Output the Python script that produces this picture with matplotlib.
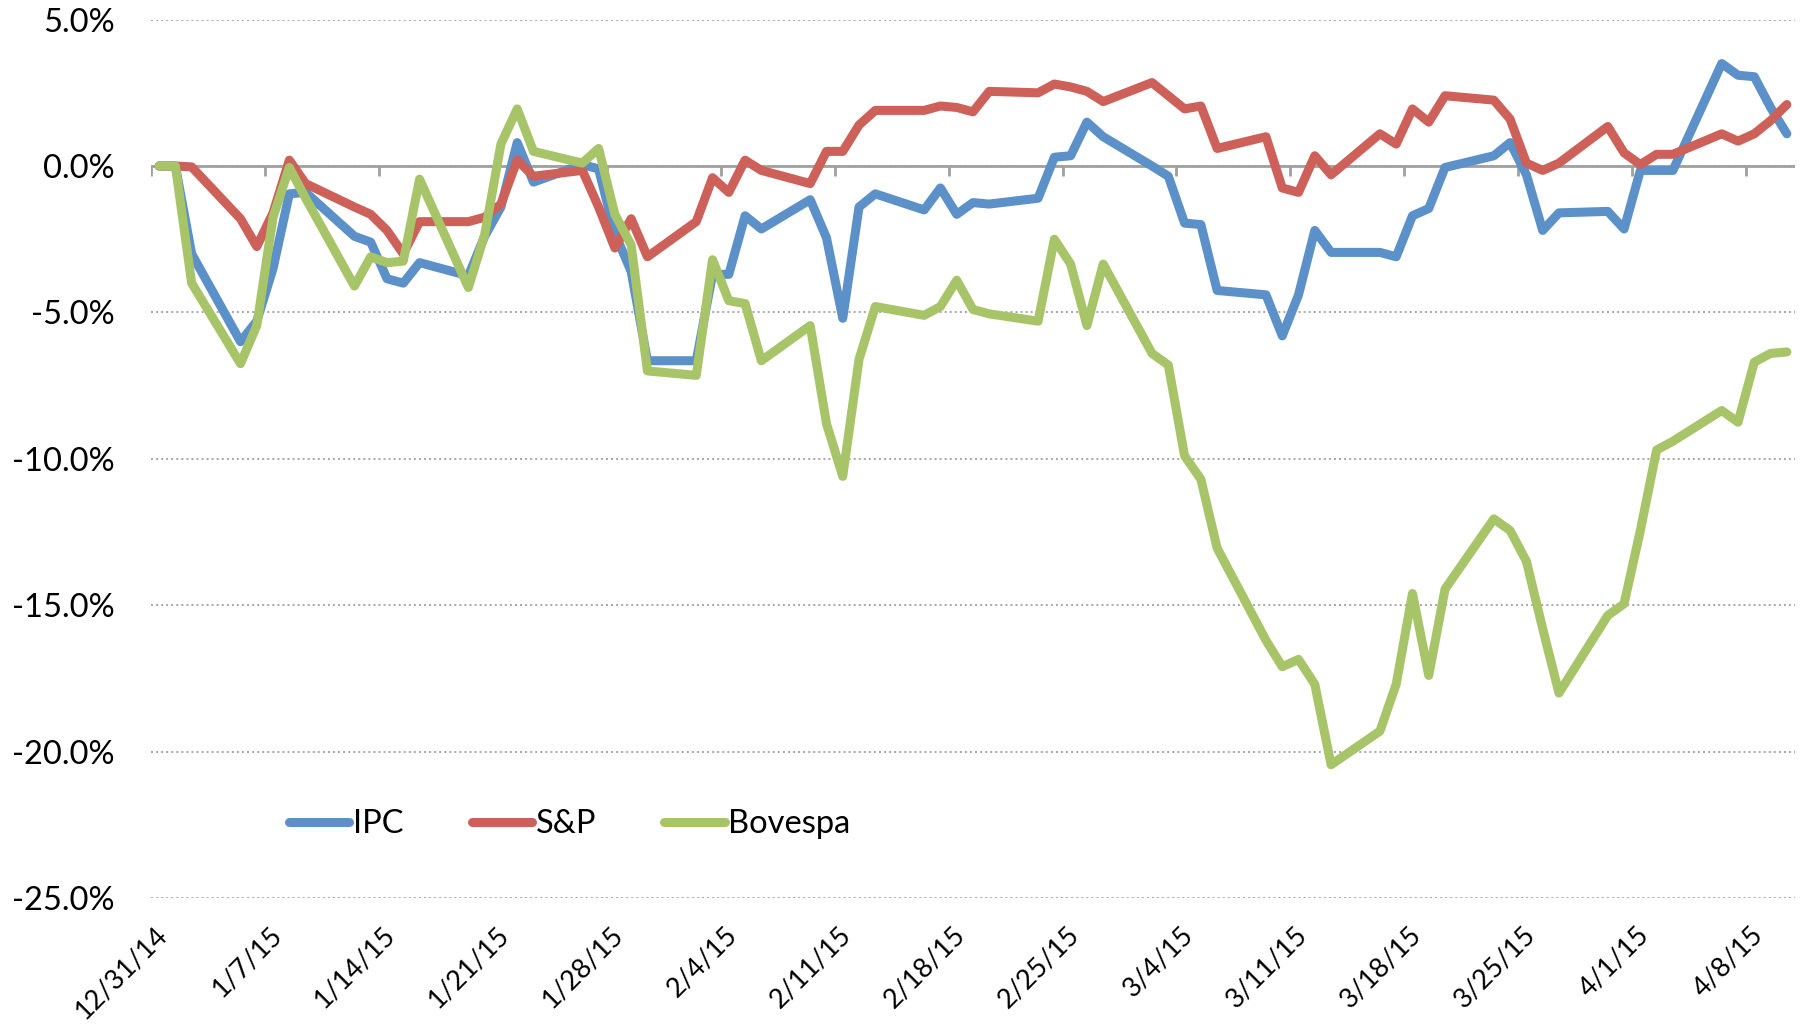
import matplotlib
matplotlib.use("Agg")
import matplotlib.pyplot as plt
import matplotlib.transforms as mtransforms
import pandas as pd

plt.rcParams['font.family'] = ['Lato', 'DejaVu Sans']

dates = [
    "2014-12-31", "2015-01-01", "2015-01-02",
    "2015-01-05", "2015-01-06", "2015-01-07", "2015-01-08", "2015-01-09",
    "2015-01-12", "2015-01-13", "2015-01-14", "2015-01-15", "2015-01-16",
    "2015-01-19", "2015-01-20", "2015-01-21", "2015-01-22", "2015-01-23",
    "2015-01-26", "2015-01-27", "2015-01-28", "2015-01-29", "2015-01-30",
    "2015-02-02", "2015-02-03", "2015-02-04", "2015-02-05", "2015-02-06",
    "2015-02-09", "2015-02-10", "2015-02-11", "2015-02-12", "2015-02-13",
    "2015-02-16", "2015-02-17", "2015-02-18", "2015-02-19", "2015-02-20",
    "2015-02-23", "2015-02-24", "2015-02-25", "2015-02-26", "2015-02-27",
    "2015-03-02", "2015-03-03", "2015-03-04", "2015-03-05", "2015-03-06",
    "2015-03-09", "2015-03-10", "2015-03-11", "2015-03-12", "2015-03-13",
    "2015-03-16", "2015-03-17", "2015-03-18", "2015-03-19", "2015-03-20",
    "2015-03-23", "2015-03-24", "2015-03-25", "2015-03-26", "2015-03-27",
    "2015-03-30", "2015-03-31", "2015-04-01", "2015-04-02", "2015-04-03",
    "2015-04-06", "2015-04-07", "2015-04-08", "2015-04-09", "2015-04-10",
]

ipc = [
    0.0, 0.0, -3.0,
    -6.0, -5.3, -3.5, -0.95, -0.9,
    -2.4, -2.6, -3.85, -4.0, -3.3,
    -3.75, -2.4, -1.4, 0.8, -0.55,
    0.05, -0.1, -2.3, -3.6, -6.65,
    -6.65, -3.7, -3.7, -1.7, -2.15,
    -1.15, -2.45, -5.2, -1.4, -0.95,
    -1.5, -0.75, -1.65, -1.25, -1.3,
    -1.1, 0.3, 0.35, 1.5, 1.0,
    0.0, -0.35, -1.95, -2.0, -4.25,
    -4.4, -5.8, -4.4, -2.2, -2.95,
    -2.95, -3.1, -1.7, -1.45, -0.05,
    0.35, 0.8, -0.3, -2.2, -1.6,
    -1.55, -2.15, -0.15, -0.15, -0.15,
    3.5, 3.1, 3.05, 2.0, 1.1,
]

sp = [
    0.0, 0.0, -0.03,
    -1.8, -2.75, -1.6, 0.2, -0.6,
    -1.4, -1.65, -2.2, -3.0, -1.9,
    -1.9, -1.75, -1.3, 0.2, -0.35,
    -0.15, -1.4, -2.8, -1.8, -3.1,
    -1.9, -0.4, -0.9, 0.2, -0.15,
    -0.6, 0.5, 0.5, 1.4, 1.9,
    1.9, 2.05, 2.0, 1.85, 2.55,
    2.5, 2.8, 2.7, 2.55, 2.2,
    2.85, 2.4, 1.95, 2.05, 0.6,
    1.0, -0.75, -0.9, 0.35, -0.3,
    1.1, 0.75, 1.95, 1.5, 2.4,
    2.25, 1.6, 0.1, -0.15, 0.1,
    1.35, 0.45, 0.05, 0.4, 0.4,
    1.1, 0.85, 1.1, 1.55, 2.1,
]

bovespa = [
    0.0, 0.0, -4.0,
    -6.75, -5.45, -1.75, -0.05, -1.1,
    -4.1, -3.1, -3.3, -3.25, -0.45,
    -4.15, -2.35, 0.75, 1.95, 0.5,
    0.1, 0.6, -1.65, -2.7, -7.0,
    -7.15, -3.2, -4.6, -4.7, -6.65,
    -5.45, -8.8, -10.6, -6.6, -4.8,
    -5.1, -4.8, -3.9, -4.9, -5.05,
    -5.3, -2.5, -3.35, -5.45, -3.35,
    -6.4, -6.8, -9.9, -10.7, -13.05,
    -16.2, -17.1, -16.85, -17.7, -20.45,
    -19.3, -17.7, -14.6, -17.4, -14.45,
    -12.05, -12.45, -13.5, -15.8, -18.0,
    -15.35, -14.95, -12.45, -9.7, -9.4,
    -8.35, -8.75, -6.7, -6.4, -6.35,
]

series_names = ["IPC", "S&P", "Bovespa"]
series_colors = ["#5B90C8", "#CD6058", "#A8C468"]

tick_labels = ["12/31/14", "1/7/15", "1/14/15", "1/21/15", "1/28/15", "2/4/15",
               "2/11/15", "2/18/15", "2/25/15", "3/4/15", "3/11/15", "3/18/15",
               "3/25/15", "4/1/15", "4/8/15"]
y_ticks = [-25, -20, -15, -10, -5, 0, 5]

x = pd.to_datetime(dates)
tick_pos = pd.to_datetime(tick_labels, format="%m/%d/%y")

fig = plt.figure(figsize=(18.08, 10.27), dpi=100)
ax = fig.add_axes([0.0835, 0.1256, 0.9093, 0.8553])

one_day = pd.Timedelta(days=1)
ax.set_xlim(x[0] - one_day / 2, x[-1] + one_day / 2)
ax.set_ylim(-25, 5)

for spine in ax.spines.values():
    spine.set_visible(False)

ax.set_yticks(y_ticks)
ax.set_yticklabels([f"{v:.1f}%" for v in y_ticks])
ax.yaxis.grid(True, color="#A6A6A6", linestyle=(0, (1, 1.6)), linewidth=1.4, zorder=0)
ax.set_axisbelow(True)
ax.tick_params(axis="y", length=0, pad=26, labelsize=23.5)

ax.set_xticks(tick_pos)
ax.set_xticklabels(tick_labels, rotation=45, ha="right", rotation_mode="anchor")
ax.tick_params(axis="x", length=0, pad=17, labelsize=19.5)
shift = mtransforms.ScaledTranslation(-3 / 72, 0, fig.dpi_scale_trans)
for lbl in ax.get_xticklabels():
    lbl.set_transform(lbl.get_transform() + shift)

# zero axis line with tick marks at week boundaries
ax.axhline(0, color="#A0A0A0", linewidth=2, zorder=1)
ax.vlines(tick_pos - one_day / 2, -0.35, 0, color="#A0A0A0", linewidth=2, zorder=1)

for vals, name, col in zip([ipc, sp, bovespa], series_names, series_colors):
    ax.plot(x, vals, color=col, linewidth=6.5, label=name,
            solid_capstyle="round", solid_joinstyle="round", zorder=3)

leg = ax.legend(loc="center left", bbox_to_anchor=(0.084, 0.084), ncol=3,
                frameon=False, fontsize=23.5, handlelength=1.85, handletextpad=0.1,
                columnspacing=2.1, borderpad=0, borderaxespad=0)

fig.savefig("out.png", dpi=100)
